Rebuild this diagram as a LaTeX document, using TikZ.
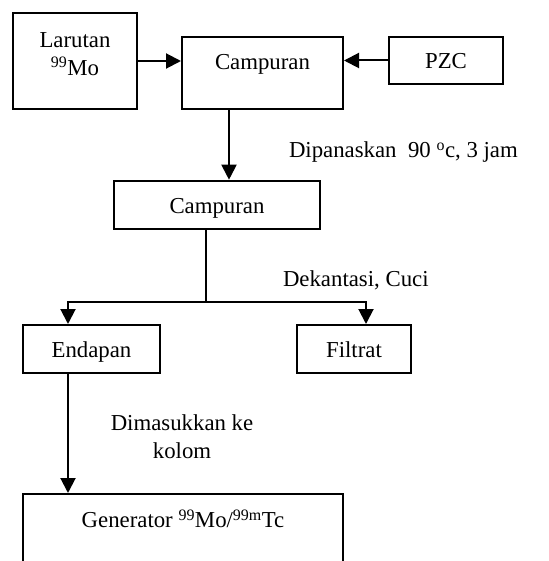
\documentclass[tikz,border=0pt]{standalone}
\usepackage{fontspec}
\setmainfont{Liberation Serif}
\usetikzlibrary{arrows.meta}
\begin{document}
\begin{tikzpicture}[x=1pt,y=-1pt,
  font=\fontsize{22.8}{27.7}\selectfont,
  line width=2pt,
  box/.style={draw,rectangle,inner sep=0pt},
  boxt/.style={box,text height=21pt,text depth=5pt},
  arr/.style={-{Triangle[length=15pt,width=15pt]}},
  txt/.style={inner sep=0pt}]
\useasboundingbox (0,0) rectangle (548,561);
\clip (0,0) rectangle (548,561);
% boxes
\node[box,minimum width=124pt,minimum height=96pt,
  label={[align=center,yshift=7pt]center:Larutan\\\textsuperscript{99}Mo}] (lar) at (75,61) {};
\node[box,minimum width=161pt,minimum height=72pt,
  label={[yshift=9pt]center:Campuran}] (c1) at (262.5,73) {};
\node[boxt,minimum width=114pt,minimum height=47pt] (pzc) at (446,60.5) {PZC};
\node[boxt,minimum width=206pt,minimum height=48.6pt] (c2) at (217,205) {Campuran};
\node[boxt,minimum width=137pt,minimum height=48pt] (end) at (91.5,349) {Endapan};
\node[boxt,minimum width=114pt,minimum height=48pt] (fil) at (354,349) {Filtrat};
\node[box,anchor=north,minimum width=320pt,text height=26pt,text depth=60pt,inner ysep=7.6pt]
  (gen) at (183,493) {Generator \textsuperscript{99}Mo/\textsuperscript{99m}Tc};
% labels
\node[txt,anchor=base west] (l1) at (288,158) {Dipanaskan\ \ 90 \textsuperscript{o}c, 3 jam};
\node[txt,anchor=base west] (l2) at (282,286) {Dekantasi, Cuci};
\node[txt,align=center,anchor=center] (l3) at (182,437) {Dimasukkan ke\\kolom};
% connectors
\draw[arr] (lar.east |- 0,61) -- (c1.west |- 0,61);
\draw[arr] (pzc.west) -- (c1.east |- pzc.west);
\draw[arr] ([xshift=-33.5pt]c1.south) -- ([xshift=-33.5pt]c1.south |- c2.north);
\coordinate (s) at (206,301.7);
\draw (c2.south -| s) -- (s);
\draw[arr] (s) -| ([xshift=-23.5pt]end.north);
\draw[arr] (s) -| ([xshift=12pt]fil.north);
\draw[arr] ([xshift=-23.5pt]end.south) -- ([xshift=-23.5pt]end.south |- gen.north);
\end{tikzpicture}
\end{document}
